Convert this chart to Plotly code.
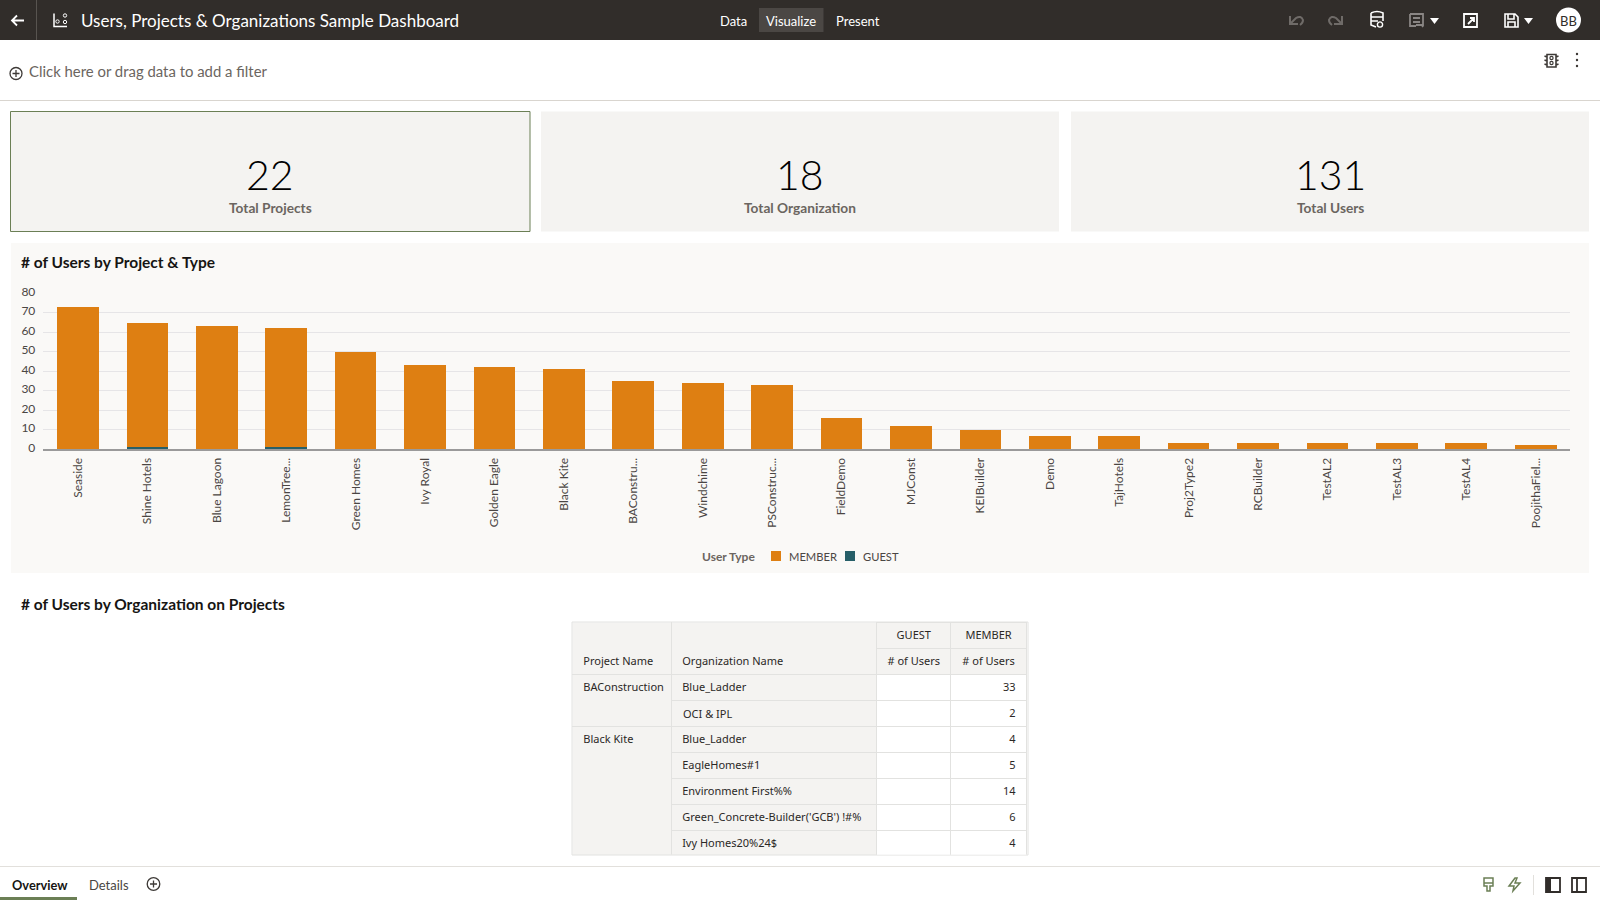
import re
import plotly.graph_objects as go

W, H = 1600, 900
FONT = "Lato"
TBL_FONT = "Noto Sans"

projects = ["Seaside", "Shine Hotels", "Blue Lagoon", "LemonTree...", "Green Homes", "Ivy Royal",
            "Golden Eagle", "Black Kite", "BAConstru...", "Windchime", "PSConstruc...", "FieldDemo",
            "MJConst", "KEIBuilder", "Demo", "TajHotels", "Proj2Type2", "RCBuilder", "TestAL2",
            "TestAL3", "TestAL4", "PoojithaFiel..."]
member = [73, 64, 63, 61, 50, 43, 42, 41, 35, 34, 33, 16, 12, 10, 7, 7, 3, 3, 3, 3, 3, 2]
guest = [0, 1, 0, 1, 0, 0, 0, 0, 0, 0, 0, 0, 0, 0, 0, 0, 0, 0, 0, 0, 0, 0]
y_ticks = [0, 10, 20, 30, 40, 50, 60, 70, 80]

kpi_values = ["22", "18", "131"]
kpi_labels = ["Total Projects", "Total Organization", "Total Users"]

tbl_project = ["BAConstruction", "", "Black Kite", "", "", "", ""]
tbl_org = ["Blue_Ladder", "OCI & IPL", "Blue_Ladder", "EagleHomes#1", "Environment First%%",
           "Green_Concrete-Builder('GCB') !#%", "Ivy Homes20%24$"]
tbl_guest = ["", "", "", "", "", "", ""]
tbl_member = [33, 2, 4, 5, 14, 6, 4]

ORANGE = "#DE7F12"
TEAL = "#265F68"
DARK = "#312D2A"
CARD = "#F4F3F1"
PANEL = "#FAF9F7"
GREY_TXT = "#6B6560"
BORDER = "#E2E2E0"
GREEN = "#6B7F55"
CLEAR = "rgba(0,0,0,0)"


def px(x):
    return x / W


def py(y):
    return 1 - y / H


def path_px(d):
    # "x,y" pairs in page pixels -> paper coordinates
    return re.sub(r"(-?[\d.]+),(-?[\d.]+)", lambda m: f"{px(float(m[1])):.5f},{py(float(m[2])):.5f}", d)


shapes = []
annots = []


def rect(x0, y0, x1, y1, fill, line=None, width=1):
    shapes.append(dict(type="rect", xref="paper", yref="paper", x0=px(x0), x1=px(x1), y0=py(y0), y1=py(y1),
                       fillcolor=fill, layer="below",
                       line=dict(color=line, width=width) if line else dict(width=0)))


def icon(d, color, width=1.5, fill=None):
    shapes.append(dict(type="path", xref="paper", yref="paper", path=path_px(d), layer="above",
                       fillcolor=fill or CLEAR,
                       line=dict(color=color, width=width)))


def circle(cx, cy, r, color, width=1.5, fill=None):
    shapes.append(dict(type="circle", xref="paper", yref="paper", x0=px(cx - r), x1=px(cx + r),
                       y0=py(cy - r), y1=py(cy + r), layer="above", fillcolor=fill or CLEAR,
                       line=dict(color=color, width=width)))


def label(x, y, text, size=13, color="#161513", anchor="left", bold=False, weight=None, font=FONT):
    annots.append(dict(xref="paper", yref="paper", x=px(x), y=py(y), text=text, showarrow=False,
                       xanchor=anchor, yanchor="middle", borderpad=0,
                       font=dict(family=font, size=size, color=color, weight=weight or (700 if bold else 400))))


# top bar
rect(0, 0, W, 40, DARK)
rect(759, 8, 823.5, 32, "#4B4744")
icon("M36.5,0 L36.5,40", "#5A5551", 1)
icon("M24,20.5 L12,20.5 M17,15.5 L12,20.5 L17,25.5", "#FFFFFF", 1.8)
icon("M54,13.5 L54,26.5 L67,26.5", "#FFFFFF", 1.5)
circle(57.5, 21.5, 1.7, "#FFFFFF", 1)
circle(65, 15.5, 1.7, "#FFFFFF", 1)
circle(65, 22, 1.7, "#FFFFFF", 1)
label(79.5, 21, "Users, Projects & Organizations Sample Dashboard", 17, "#FFFFFF")
label(733.5, 20.5, "Data", 13, "#FFFFFF", "center")
label(791, 20.5, "Visualize", 13, "#FFFFFF", "center")
label(858, 20.5, "Present", 13, "#FFFFFF", "center")
icon("M1290,16 L1290,24 L1298,24 M1290,24 L1296,18 Q1301,15 1303,20 Q1303,23 1300,25", "#6F6B68", 2)
icon("M1342,16 L1342,24 L1334,24 M1342,24 L1336,18 Q1331,15 1329,20 Q1329,23 1332,25", "#6F6B68", 2)
icon("M1371,13 Q1377,10 1383,13 L1383,21 M1371,13 L1371,25 L1376,27 M1371,17 L1383,17 M1371,21 L1378,21", "#FFFFFF", 1.6)
circle(1380, 24.5, 2.6, "#FFFFFF", 1.4)
icon("M1410,14 L1423,14 L1423,25 L1416,25 L1422,25 L1423,27 M1410,14 L1410,26 L1416,26 M1413,18 L1420,18 M1413,22 L1420,22", "#8A8684", 1.8)
icon("M1430,18 L1439,18 L1434.5,24 Z", "#FFFFFF", 0, "#FFFFFF")
icon("M1464,14 L1477,14 L1477,27 L1464,27 Z M1468,24 L1474,18 M1470,18 L1474,18 L1474,22", "#FFFFFF", 1.8)
icon("M1505,14 L1515,14 L1518,17 L1518,27 L1505,27 Z M1508,14 L1508,19 L1514,19 L1514,14 M1508,27 L1508,22 L1515,22 L1515,27",
     "#FFFFFF", 1.6)
icon("M1524,18 L1533,18 L1528.5,24 Z", "#FFFFFF", 0, "#FFFFFF")
circle(1568.5, 20, 12.5, "#FFFFFF", 0, "#FFFFFF")
label(1568.5, 20.5, "BB", 13, DARK, "center")

# filter bar
rect(0, 100, W, 101, "#D9D5CF")
circle(16, 73.5, 6, "#3E3A37", 1.3)
icon("M16,70 L16,77 M12.5,73.5 L19.5,73.5", "#3E3A37", 1.3)
label(28, 71, "Click here or drag data to add a filter", 14.9, GREY_TXT)
icon("M1547,54.5 L1556,54.5 L1556,67 L1547,67 Z M1547,57 L1544.5,56 M1556,57 L1558.5,56 M1547,61 L1544.5,60 M1556,61 L1558.5,60 M1547,65 L1544.5,64 M1556,65 L1558.5,64",
     "#3E3A37", 1.6)
circle(1551.5, 58, 1.6, "#3E3A37", 1.2)
circle(1551.5, 63, 1.6, "#3E3A37", 1.2)
for dot_y in [54, 60, 66]:
    circle(1577, dot_y, 1.2, "#3E3A37", 0, "#3E3A37")

# KPI cards
card_x = [(10.5, 530), (541, 1059), (1071, 1589)]
for i, (x0, x1) in enumerate(card_x):
    rect(x0, 111.5, x1, 231.5, CARD, GREEN if i == 0 else None)
    label((x0 + x1) / 2, 174, kpi_values[i], 41, "#000000", "center", weight=300)
    label((x0 + x1) / 2, 207.5, kpi_labels[i], 13.7, GREY_TXT, "center", bold=True)

# chart panel
rect(11, 243, 1589, 573, PANEL)
label(20.3, 262, "# of Users by Project & Type", 15.5, "#161513", bold=True)
label(20.3, 604, "# of Users by Organization on Projects", 15.5, "#161513", bold=True)

# legend of the stacked chart
label(701, 556, "User Type", 12, GREY_TXT, bold=True)
rect(771, 551, 781, 561, ORANGE)
label(788, 556, "MEMBER", 11.2, "#4A4643")
rect(845, 551, 855, 561, TEAL)
label(862, 556, "GUEST", 11.2, "#4A4643")

# footer
rect(0, 866, W, 867, "#E2E0DC")
rect(0, 897, 77, 900, GREEN)
label(10.5, 885, "Overview", 12.8, "#161513", bold=True)
label(88, 885, "Details", 13, "#4A4643")
circle(153.5, 884, 6.3, "#3E3A37", 1.3)
icon("M153.5,880.5 L153.5,887.5 M150,884 L157,884", "#3E3A37", 1.3)
icon("M1484,878 L1493,878 L1493,886 L1490,886 L1490,891 L1487,891 L1487,886 L1484,886 Z M1484,883 L1493,883", GREEN, 1.5)
icon("M1515,878 L1509,886 L1514,886 L1513,891 L1520,883 L1515,883 L1517,878 Z", GREEN, 1.5)
rect(1533, 875, 1534, 895, "#E2E0DC")
icon("M1546,878 L1560,878 L1560,892 L1546,892 Z", DARK, 1.8)
rect(1546, 878, 1551, 892, DARK)
icon("M1572,878 L1586,878 L1586,892 L1572,892 Z M1577,878 L1577,892", DARK, 1.8)

fig = go.Figure()
fig.add_trace(go.Bar(x=projects, y=guest, name="GUEST", marker=dict(color=TEAL, line=dict(width=0))))
fig.add_trace(go.Bar(x=projects, y=member, name="MEMBER", marker=dict(color=ORANGE, line=dict(width=0))))

# merged project/organization headers and project groups sit under the table, which keeps those cells clear
rect(572.5, 622.5, 877, 855, CARD)
for line_y in [674.5, 726.5]:
    rect(572, line_y - 0.5, 671, line_y + 0.5, BORDER)
rect(671, 622, 672, 675, BORDER)
rect(877, 622, 878, 675, BORDER)
rect(572, 622, 1028, 855, None, BORDER)

# plotly.table grows any row holding "&", so that one organization name is placed as a label instead
org_cells = [v if "&" not in v else "" for v in tbl_org]
for row, v in enumerate(tbl_org):
    if "&" in v:
        label(682, 687.5 + 26 * row, v, 11, "#2B2826", font=TBL_FONT)

fig.add_trace(go.Table(
    domain=dict(x=[px(572.5), px(1027)], y=[py(854.5), py(622.5)]),
    columnwidth=[99, 206, 74, 76],
    header=dict(
        values=[["", "\u00a0Project Name"], ["", "\u00a0Organization Name"], ["GUEST", "# of Users"], ["MEMBER", "# of Users"]],
        height=26, align=["left", "left", "center", "center"],
        fill_color=[CLEAR, CLEAR, CARD, CARD], font=dict(family=TBL_FONT, size=11, color="#2B2826"),
        line=dict(color=[CLEAR, CLEAR, BORDER, BORDER], width=1),
    ),
    cells=dict(
        values=[["\u00a0" + v for v in tbl_project], ["\u00a0" + v for v in org_cells], tbl_guest,
                [f"{v}\u00a0" for v in tbl_member]],
        height=26, align=["left", "left", "right", "right"],
        fill_color=[CLEAR, CLEAR, "#FFFFFF", "#FFFFFF"],
        font=dict(family=TBL_FONT, size=11, color="#2B2826"),
        line=dict(color=[CLEAR, BORDER, BORDER, BORDER], width=1),
    ),
))

fig.update_layout(
    width=W, height=H, autosize=False, margin=dict(l=0, r=0, t=0, b=0, autoexpand=False),
    paper_bgcolor="#FFFFFF", plot_bgcolor=CLEAR, barmode="stack", bargap=0.4,
    font=dict(family=FONT, size=13, color="#4A4643"),
    shapes=shapes, annotations=annots,
    hovermode=False, showlegend=False,
    xaxis=dict(domain=[px(43.3), px(1570.4)], type="category", range=[-0.5, 21.5], tickangle=-90, ticks="",
               ticklabelstandoff=2, showline=True, linecolor="#9A9A9A", linewidth=1.5, showgrid=False,
               tickfont=dict(family=FONT, size=12, color="#4A4643")),
    yaxis=dict(domain=[py(449.3), py(293.3)], range=[0, 80], tickvals=y_ticks, ticks="", gridcolor="#E6E5E7",
               gridwidth=1.2, zeroline=False, ticklabelstandoff=7, ticklabelshift=-2,
               tickfont=dict(family=FONT, size=12, color="#4A4643")),
)

fig.write_html("out.html", config={"displayModeBar": False},
               post_script="document.body.style.margin='0';document.body.style.overflow='hidden';"
                           "document.querySelectorAll('.scrollbar-kit').forEach(e=>e.style.display='none');")
